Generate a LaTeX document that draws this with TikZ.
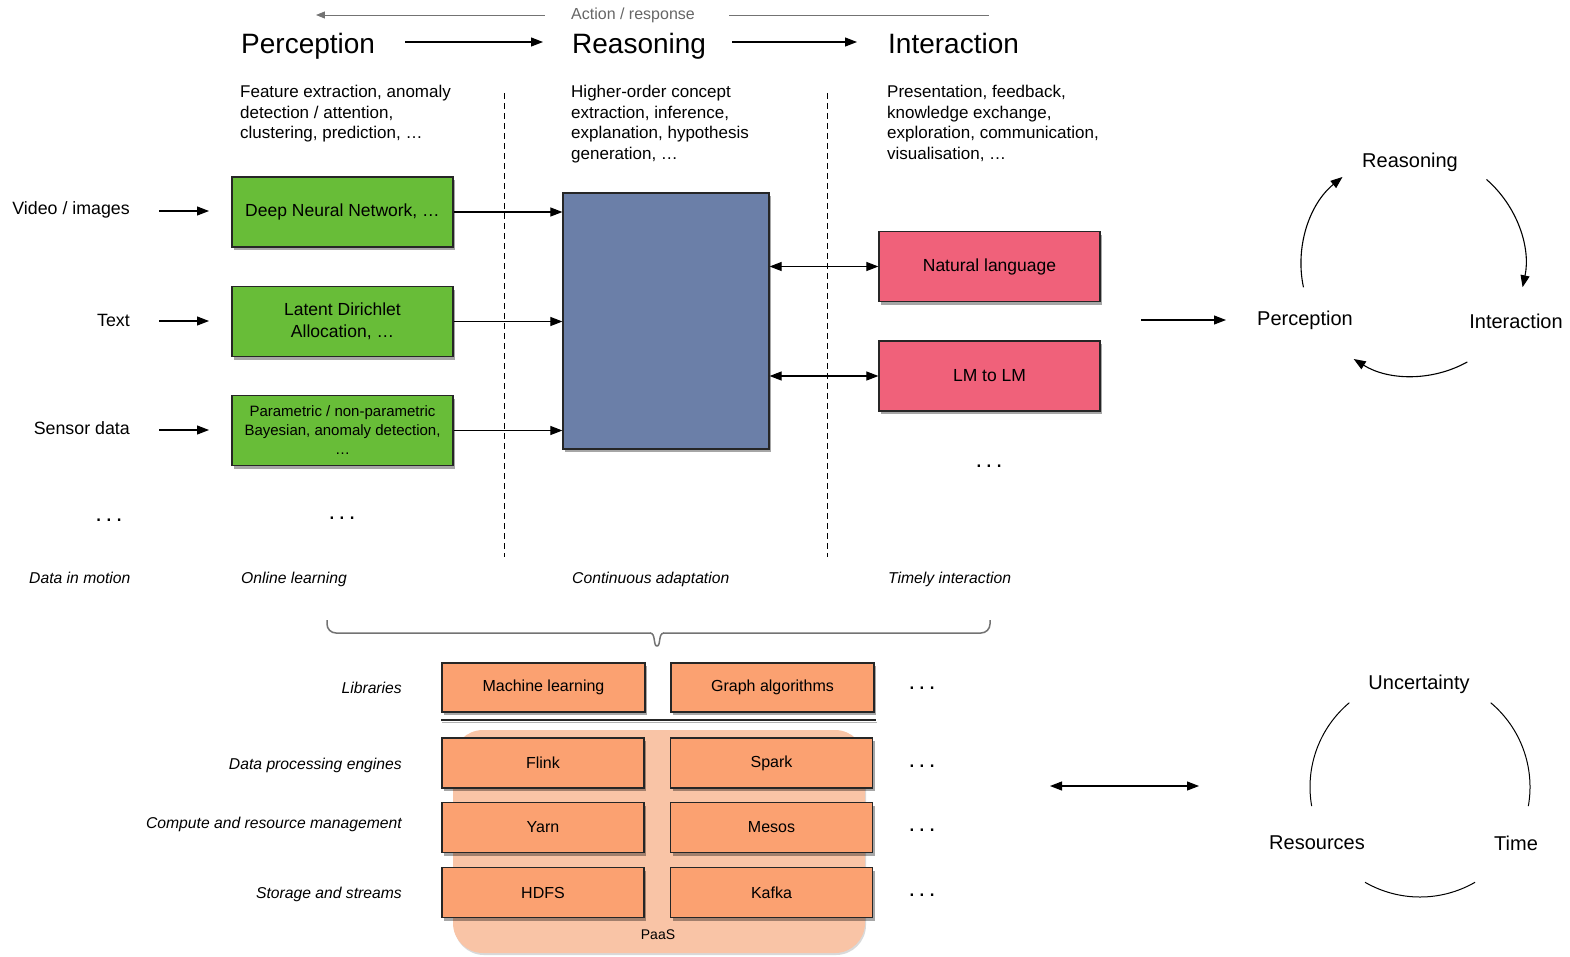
\documentclass[tikz,border=0pt]{standalone}
\usepackage{fontspec}
\setmainfont{Liberation Sans}
\usetikzlibrary{arrows.meta,shadows,calc}
\definecolor{grn}{HTML}{68BD38}
\definecolor{blu}{HTML}{6B7FA8}
\definecolor{pnk}{HTML}{F0617A}
\definecolor{org}{HTML}{FBA171}
\definecolor{paas}{HTML}{F9C4A6}
\newcommand{\mydots}{.\hspace{3.5pt}.\hspace{3.5pt}.}
\begin{document}
\begin{tikzpicture}[x=1pt,y=1pt,
  >={Triangle[length=12pt,width=9pt]},
  arr/.style={->, line width=1.1pt},
  darr/.style={<->, line width=1.1pt},
  shad/.style={drop shadow={shadow xshift=2pt,shadow yshift=-3pt,opacity=0.35,fill=black}},
  box/.style={shad, draw=black!85, line width=1.2pt, inner sep=2pt, align=center},
  gbox/.style={box, fill=grn, minimum width=221pt, minimum height=70pt, font=\fontsize{17.5}{22.5}\selectfont},
  pbox/.style={box, fill=pnk, minimum width=221pt, minimum height=70pt, font=\fontsize{17.5}{22}\selectfont},
  obox/.style={box, fill=org, minimum width=202pt, minimum height=49pt, font=\fontsize{16}{19}\selectfont},
  head/.style={font=\fontsize{28}{32}\selectfont, anchor=base west, inner sep=0pt},
  desc/.style={font=\fontsize{17}{20.5}\selectfont, align=left, anchor=north west, inner sep=0pt},
  lab/.style={font=\fontsize{17.8}{21}\selectfont, inner sep=0pt},
  ital/.style={font=\fontsize{15.7}{19}\itshape\selectfont, inner sep=0pt},
  cyc/.style={font=\fontsize{20}{24}\selectfont, inner sep=0pt},
  dots/.style={font=\fontsize{24}{26}\selectfont, inner sep=0pt},
  vdash/.style={dash pattern=on 6pt off 4pt, line width=1pt},
  cyarc/.style={line width=1.1pt},
]
\useasboundingbox (0,0) rectangle (1570,-956);

% ---------- header ----------
\node[head] (hp) at (241,-53) {Perception};
\node[head] (hr) at (572,-53) {Reasoning};
\node[head] (hi) at (888,-53) {Interaction};
\draw[arr] ([shift={(30pt,11pt)}]hp.base east) -- ([shift={(-29pt,11pt)}]hr.base west);
\draw[arr] ([shift={(26pt,11pt)}]hr.base east) -- ([shift={(-31pt,11pt)}]hi.base west);

\node[font=\fontsize{16}{19}\selectfont, text=black!60, inner sep=0pt] (ar) at (633,-15) {Action / response};
\draw[->, draw=black!55, line width=0.9pt, >={Triangle[length=9pt,width=7pt]}]
  ([xshift=-26pt]ar.west) -- ++(-229pt,0);
\draw[draw=black!55, line width=0.9pt] ([xshift=34pt]ar.east) -- ++(260pt,0);

\node[desc] (dp) at (240,-85) {Feature extraction, anomaly\\detection / attention,\\clustering, prediction, …};
\node[desc] (dr) at (571,-85) {Higher-order concept\\extraction, inference,\\explanation, hypothesis\\generation, …};
\node[desc] (di) at (887,-85) {Presentation, feedback,\\knowledge exchange,\\exploration, communication,\\visualisation, …};

\draw[vdash] (504,-93) -- (504,-557);
\draw[vdash] (827,-93) -- (827,-557);

% ---------- boxes ----------
\node[gbox] (dnn) at (342.5,-212) {Deep Neural Network, …};
\node[gbox] (lda) at (342.5,-321.5) {Latent Dirichlet\\Allocation, …};
\node[gbox, font=\fontsize{15}{19}\selectfont] (par) at (342.5,-430.5) {Parametric / non-parametric\\Bayesian, anomaly detection,\\…};
\node[box, fill=blu, minimum width=206pt, minimum height=256pt] (rb) at (666,-321) {};
\node[pbox] (nl) at (989.5,-266.5) {Natural language};
\node[pbox] (lm) at (989.5,-376) {LM to LM};

\node[lab, anchor=east] (vid) at (130,-210) {Video / images};
\node[lab, anchor=east] (txt) at (130,-320) {Text};
\node[lab, anchor=east] (sen) at (130,-428) {Sensor data};
\draw[arr] ([shift={(29pt,-1pt)}]vid.east) -- ([shift={(79pt,-1pt)}]vid.east);
\draw[arr] ([shift={(29pt,-1pt)}]txt.east) -- ([shift={(79pt,-1pt)}]txt.east);
\draw[arr] ([shift={(29pt,-2pt)}]sen.east) -- ([shift={(79pt,-2pt)}]sen.east);

\draw[arr] (dnn.east) -- (dnn.east -| rb.west);
\draw[arr] (lda.east) -- (lda.east -| rb.west);
\draw[arr] (par.east) -- (par.east -| rb.west);
\draw[darr] (nl.west -| rb.east) -- (nl.west);
\draw[darr] (lm.west -| rb.east) -- (lm.west);

\node[dots] (d1) at (109,-520) {\mydots};
\node[dots] (d2) at (342,-518) {\mydots};
\node[dots] (d3) at (989,-466) {\mydots};

\node[ital, anchor=base west] (i1) at (29,-583.5) {Data in motion};
\node[ital, anchor=base west] (i2) at (241,-583.5) {Online learning};
\node[ital, anchor=base west] (i3) at (572,-583.5) {Continuous adaptation};
\node[ital, anchor=base west] (i4) at (888,-583.5) {Timely interaction};

% ---------- brace ----------
\draw[black!55, line width=1.5pt, rounded corners=9pt] (327,-620) |- (651,-633);
\draw[black!55, line width=1.5pt] (650,-633) .. controls (656,-633) and (653,-646) .. (657,-646)
  .. controls (661,-646) and (658,-633) .. (664,-633);
\draw[black!55, line width=1.5pt, rounded corners=9pt] (663,-633) -| (990,-620);

% ---------- platform stack ----------
\fill[paas, rounded corners=30pt, drop shadow={shadow xshift=1pt,shadow yshift=-2pt,opacity=0.15,fill=black}] (453,-730) rectangle (865,-953);
\node[font=\fontsize{14}{17}\selectfont, inner sep=0pt] (paasl) at (658,-935) {PaaS};

\node[obox, minimum width=203pt] (ml) at (543.5,-687.5) {Machine learning};
\node[obox, minimum width=203pt] (ga) at (772.5,-687.5) {Graph algorithms};
\draw[black!30, line width=1.5pt] (442,-722.5) -- (877,-722.5);
\draw[black!85, line width=1.1pt] (441,-720) -- (876,-720);
\node[obox, minimum height=50pt] (fl) at (543,-763) {Flink};
\node[obox, minimum height=50pt] (sp) at (771.5,-763) {Spark};
\node[obox, minimum height=50pt] (ya) at (543,-827.5) {Yarn};
\node[obox, minimum height=50pt] (me) at (771.5,-827.5) {Mesos};
\node[obox, minimum height=50pt] (hd) at (543,-892.5) {HDFS};
\node[obox, minimum height=50pt] (ka) at (771.5,-892.5) {Kafka};

\node[ital, anchor=base east] (l1) at (402,-693.5) {Libraries};
\node[ital, anchor=base east] (l2) at (402,-769.5) {Data processing engines};
\node[ital, anchor=base east] (l3) at (402,-828.5) {Compute and resource management};
\node[ital, anchor=base east] (l4) at (402,-898.5) {Storage and streams};

\node[dots] (e1) at (922,-688) {\mydots};
\node[dots] (e2) at (922,-766) {\mydots};
\node[dots] (e3) at (922,-830) {\mydots};
\node[dots] (e4) at (922,-895) {\mydots};

% ---------- right: cycles ----------
\node[cyc] (cr) at (1410,-162) {Reasoning};
\node[cyc] (cp) at (1305,-320) {Perception};
\node[cyc] (ci) at (1516,-321) {Interaction};
\coordinate (rin) at (1141,-320);
\draw[arr] (rin) -- ([xshift=-31pt]rin -| cp.west);
\draw[cyarc,->] (1413,-264) ++(192:112) arc[start angle=192, end angle=129, radius=112];
\draw[cyarc,->] (1413,-264) ++(49:112) arc[start angle=49, end angle=-12, radius=112];
\draw[cyarc,->] (1413,-264) ++(-61:112) arc[start angle=-61, end angle=-122, radius=112];

\node[cyc] (cu) at (1419,-684) {Uncertainty};
\node[cyc] (cre) at (1317,-843) {Resources};
\node[cyc] (cti) at (1516,-843) {Time};
\coordinate (ba1) at (1050,-786);
\coordinate (ba2) at (1199,-786);
\draw[darr] (ba1) -- (ba2);
\draw[line width=1pt] (1420,-787) ++(130:110) arc[start angle=130, end angle=190, radius=110];
\draw[line width=1pt] (1420,-787) ++(50:110) arc[start angle=50, end angle=-10, radius=110];
\draw[line width=1pt] (1420,-787) ++(-120:110) arc[start angle=-120, end angle=-60, radius=110];
\end{tikzpicture}
\end{document}
